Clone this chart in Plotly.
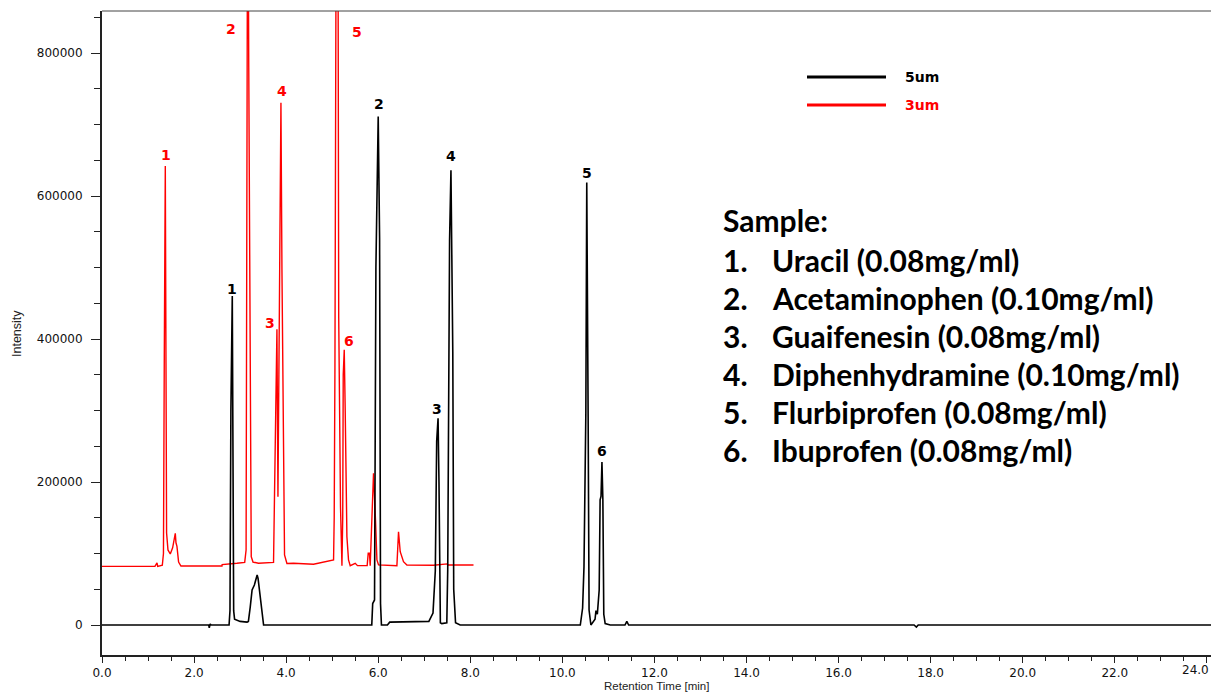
import plotly.graph_objects as go

# ---------------- data ----------------
# 5um column (black trace)
t_5um = [0.00, 2.30, 2.32, 2.33, 2.35, 2.37, 2.76, 2.78, 2.80, 2.83, 2.85, 2.86, 2.88, 3.00,
         3.15, 3.18, 3.22, 3.26, 3.31, 3.37, 3.39, 3.44, 3.51, 3.55,
         5.86, 5.88, 5.92, 5.95, 6.00, 6.03, 6.05, 6.07, 6.20, 6.25, 7.10,
         7.19, 7.24, 7.27, 7.30, 7.32, 7.35, 7.38, 7.49, 7.51, 7.55, 7.58, 7.62, 7.64, 7.68, 7.78,
         10.39, 10.44, 10.47, 10.51, 10.53, 10.56, 10.58, 10.62, 10.71, 10.73, 10.76, 10.80,
         10.82, 10.84, 10.86, 10.88, 10.90, 10.93, 11.04, 11.36, 11.40, 11.44,
         17.64, 17.69, 17.73, 24.10]
i_5um = [0, 0, 0, -4000, 1500, 0, 0, 20000, 300000, 460000, 250000, 20000, 8000, 5000,
         4000, 5000, 25000, 49000, 56000, 70000, 65000, 35000, 0, 0,
         0, 30000, 35000, 500000, 711000, 540000, 30000, 0, 0, 4000, 5000,
         16800, 75500, 257000, 289000, 200000, 3000, 2000, 3000, 77800, 537000, 636000, 381800, 50000, 3000, 0,
         0, 23700, 81500, 296000, 619000, 291000, 21000, 0, 8000, 20000, 15000, 49000,
         175000, 180000, 228000, 175000, 15000, 2000, 0, 0, 5000, 0,
         0, -3000, 0, 0]

# 3um column (red trace)
t_3um = [0.00, 1.15, 1.195, 1.21, 1.31, 1.335, 1.353, 1.36, 1.375, 1.39, 1.403, 1.433, 1.483,
         1.534, 1.57, 1.592, 1.607, 1.628, 1.664, 1.715,
         2.606, 2.61, 2.93, 3.10, 3.13, 3.149, 3.166, 3.188, 3.22, 3.242, 3.28, 3.40,
         3.726, 3.763, 3.80, 3.822, 3.857, 3.887, 3.909, 3.944, 3.965, 4.017, 4.16, 4.595,
         5.03, 5.044, 5.06, 5.099, 5.12, 5.142, 5.164, 5.181, 5.212, 5.229, 5.24, 5.262,
         5.283, 5.32, 5.355, 5.392, 5.50, 5.55, 5.76, 5.783, 5.81, 5.826, 5.898, 5.92,
         5.941, 5.972, 6.007, 6.406, 6.441, 6.478, 6.549, 6.623, 7.20, 7.50, 7.52, 8.07]
i_3um = [82000, 82000, 87000, 82000, 83500, 100000, 375000, 450000, 642000, 366000, 128700, 105000, 99300,
         108000, 125000, 128200, 115000, 110000, 88000, 82500,
         82500, 84500, 86300, 87500, 104900, 548000, 1150000, 780000, 296500, 95500, 88000, 86300,
         87500, 244700, 413500, 179500, 552400, 730500, 496500, 165000, 98000, 86000, 86300, 84900,
         90900, 150000, 360000, 1300000, 1200000, 430000, 200000, 165000, 83000, 150000, 350000, 385000,
         300000, 123500, 91000, 83000, 86300, 83000, 83000, 100300, 100300, 83000, 212200, 188000,
         146900, 91000, 84000, 83000, 130500, 102500, 88500, 84000, 83500, 85500, 84000, 84000]

# peak numbering labels
peak_names = ["1", "2", "3", "4", "5", "6"]
label_t_3um = [1.396, 2.808, 3.655, 3.916, 5.544, 5.370]
label_i_3um = [657000, 833000, 422000, 747000, 830000, 397000]
label_t_5um = [2.83, 6.02, 7.28, 7.585, 10.54, 10.865]
label_i_5um = [470000, 728000, 302000, 656000, 632000, 243000]

series_names = ["5um", "3um"]
series_colors = ["#000000", "#ff0000"]

sample_title = "Sample:"
sample_items = ["Uracil (0.08mg/ml)", "Acetaminophen (0.10mg/ml)", "Guaifenesin (0.08mg/ml)",
                "Diphenhydramine (0.10mg/ml)", "Flurbiprofen (0.08mg/ml)", "Ibuprofen (0.08mg/ml)"]

x_range = [0, 24.09]
y_range = [-41958, 858740]
last_tick_label = "24.0"

# ---------------- figure ----------------
fig = go.Figure()
fig.add_trace(go.Scatter(x=t_3um, y=i_3um, mode="lines", name=series_names[1],
                         line=dict(color=series_colors[1], width=1.4), showlegend=False))
fig.add_trace(go.Scatter(x=t_5um, y=i_5um, mode="lines", name=series_names[0],
                         line=dict(color=series_colors[0], width=1.6), showlegend=False))

annotations = []
lab_font = dict(family="DejaVu Sans", size=14)
for n, tx, iy in zip(peak_names, label_t_3um, label_i_3um):
    annotations.append(dict(x=tx, y=iy, xref="x", yref="y", text="<b>%s</b>" % n, showarrow=False,
                            font=dict(color=series_colors[1], **lab_font), xanchor="center", yanchor="middle"))
for n, tx, iy in zip(peak_names, label_t_5um, label_i_5um):
    annotations.append(dict(x=tx, y=iy, xref="x", yref="y", text="<b>%s</b>" % n, showarrow=False,
                            font=dict(color=series_colors[0], **lab_font), xanchor="center", yanchor="middle"))

# plot area pixel helpers (paper coordinates)
L, R, T, B = 102, 1211, 11, 655
def px(xp):
    return (xp - L) / (R - L)
def py(yp):
    return (B - yp) / (B - T)

# custom legend
shapes = []
for k, (nm, col, yy) in enumerate(zip(series_names, series_colors, [77, 105])):
    shapes.append(dict(type="line", xref="paper", yref="paper", x0=px(807), x1=px(886), y0=py(yy), y1=py(yy),
                       line=dict(color=col, width=3)))
    annotations.append(dict(x=px(903), y=py(yy), xref="paper", yref="paper", text="<b>%s</b>" % nm,
                            showarrow=False, xanchor="left", yanchor="middle",
                            font=dict(family="DejaVu Sans", size=14, color=col)))

# top frame line
shapes.append(dict(type="line", xref="paper", yref="paper", x0=0, x1=1, y0=1, y1=1,
                   line=dict(color="#444444", width=1)))

# sample text block
sfont = dict(family="Lato", size=30, color="#000000")
line_y = [220, 260, 298, 336, 374, 412, 450]
annotations.append(dict(x=px(721), y=py(line_y[0]), xref="paper", yref="paper", text="<b>%s</b>" % sample_title,
                        showarrow=False, xanchor="left", yanchor="middle", font=sfont))
for k, item in enumerate(sample_items):
    annotations.append(dict(x=px(721), y=py(line_y[k + 1]), xref="paper", yref="paper", text="<b>%d.</b>" % (k + 1),
                            showarrow=False, xanchor="left", yanchor="middle", font=sfont))
    annotations.append(dict(x=px(770), y=py(line_y[k + 1]), xref="paper", yref="paper", text="<b>%s</b>" % item,
                            showarrow=False, xanchor="left", yanchor="middle", font=sfont))

# axis titles
annotations.append(dict(x=px(656), y=0, xref="paper", yref="paper", yshift=-(693 - B), borderpad=0,
                        text="Retention Time [min]", showarrow=False, xanchor="center", yanchor="bottom",
                        font=dict(family="Liberation Sans", size=11.5, color="#222222")))
annotations.append(dict(x=px(17), y=py(334), xref="paper", yref="paper", text="Intensity", textangle=-90,
                        showarrow=False, xanchor="center", yanchor="middle",
                        font=dict(family="Liberation Sans", size=12.5, color="#222222")))
# last x tick label (plotly hides it because it would overflow the page edge)
annotations.append(dict(x=1, y=py(670), xref="paper", yref="paper", text=last_tick_label,
                        showarrow=False, xanchor="right", yanchor="middle",
                        font=dict(family="DejaVu Sans", size=12, color="#111111")))

fig.update_layout(
    width=1211, height=693,
    margin=dict(l=L, r=1211 - R, t=T, b=693 - B),
    paper_bgcolor="white", plot_bgcolor="white",
    showlegend=False,
    annotations=annotations, shapes=shapes,
    font=dict(family="DejaVu Sans", size=12, color="#111111"),
)
fig.update_xaxes(range=x_range, showgrid=False, zeroline=False, showline=True, linecolor="#222222", linewidth=2,
                 ticks="outside", tickmode="linear", tick0=0, dtick=2, tickformat=".1f", ticklen=6,
                 tickcolor="#222222", tickwidth=1,
                 minor=dict(ticks="outside", dtick=0.5, tick0=0, ticklen=4, tickcolor="#222222", tickwidth=1),
                 tickfont=dict(family="DejaVu Sans", size=12, color="#111111"))
fig.update_yaxes(range=y_range, showgrid=False, zeroline=False, showline=True, linecolor="#222222", linewidth=2,
                 ticks="outside", tickmode="linear", tick0=0, dtick=200000, tickformat="d", ticklen=9,
                 tickcolor="#222222", tickwidth=1, ticklabelstandoff=6,
                 minor=dict(ticks="outside", dtick=50000, tick0=0, ticklen=6, tickcolor="#222222", tickwidth=1),
                 tickfont=dict(family="DejaVu Sans", size=12, color="#111111"))

fig.write_html("out.html", config={"displayModeBar": False},
               post_script="document.documentElement.style.margin='0';document.body.style.margin='0';"
                           "document.body.style.padding='0';document.body.style.overflow='hidden';")
